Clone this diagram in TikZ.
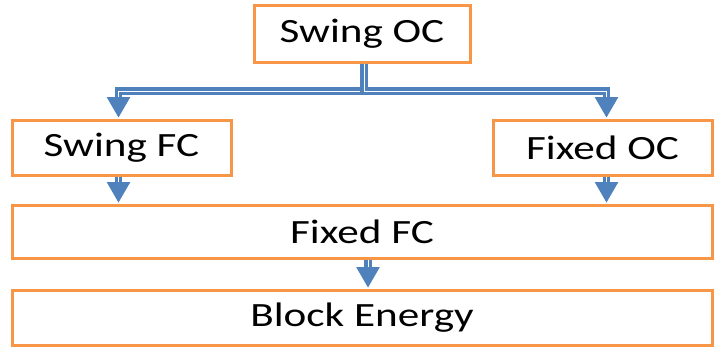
\documentclass[tikz,border=0pt]{standalone}
\usepackage{fontspec}
\setmainfont{Carlito}
\definecolor{corange}{HTML}{F79646}
\definecolor{cblue}{HTML}{4F81BD}
\tikzset{
  box/.style={draw=corange, line width=3pt, fill=white, inner sep=0pt, font=\fontsize{34}{34}\selectfont},
  tiphead/.style={fill=cblue, draw=cblue, line width=1pt, line join=miter},
  shaft/.style={draw=cblue, line width=3.4pt, double=white, double distance=0.9pt, shorten >=16pt}
}
\newcommand{\wtext}[1]{\scalebox{1.27}[1]{#1}}
\begin{document}
\begin{tikzpicture}[x=1pt,y=1pt]
\useasboundingbox (0,0) rectangle (714,-348);
\node[box, minimum width=216pt, minimum height=57pt] (oc) at (362,-33.5) {\wtext{Swing OC}};
\node[box, minimum width=219pt, minimum height=55pt] (sfc) at (121.5,-147.5) {\wtext{Swing FC}};
\node[box, minimum width=219pt, minimum height=55pt] (foc) at (602.5,-147.5) {\wtext{Fixed OC}};
\node[box, minimum width=700pt, minimum height=53pt] (ffc) at (362,-231.5) {\wtext{Fixed FC}};
\node[box, minimum width=700pt, minimum height=55pt] (be) at (362,-317.5) {\wtext{Block Energy}};
\coordinate (split) at (364,-91);
\coordinate (t1) at ([xshift=-3pt,yshift=2pt]sfc.north);
\coordinate (t2) at ([xshift=4pt,yshift=2pt]foc.north);
\coordinate (t3) at ([xshift=-3pt,yshift=2pt]sfc.south |- ffc.north);
\coordinate (t4) at ([xshift=4pt,yshift=2pt]foc.south |- ffc.north);
\coordinate (t5) at ([xshift=6pt,yshift=2pt]ffc.south |- be.north);
% double shafts
\draw[shaft] (oc.south -| split) -- (split) -| (t1);
\draw[shaft] (oc.south -| split) -- (split) -| (t2);
\draw[shaft] ([xshift=-3pt]sfc.south) -- (t3);
\draw[shaft] ([xshift=4pt]foc.south) -- (t4);
\draw[shaft] ([xshift=6pt]ffc.south) -- (t5);
% arrowheads
\foreach \t in {t1,t2,t3,t4,t5}
  \filldraw[tiphead] (\t) -- ++(-11pt,19pt) -- ++(22pt,0pt) -- cycle;
\end{tikzpicture}
\end{document}
